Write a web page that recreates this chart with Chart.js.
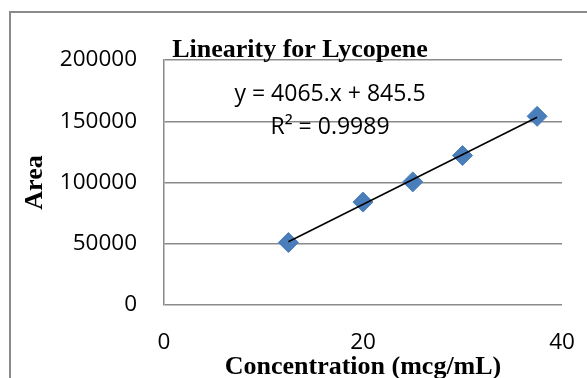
<!DOCTYPE html>
<html>
<head>
<meta charset="utf-8">
<script src="https://cdn.jsdelivr.net/npm/chart.js@4.4.1/dist/chart.umd.min.js"></script>
<style>
    html, body { margin: 0; padding: 0; background: #fff; }
</style>
</head>
<body>
<canvas id="chartLicopeno" width="587" height="378"></canvas>
<script>
// datos
const concentraciones = [12.5, 20, 25, 30, 37.5];
const areas = [51000, 84000, 100500, 122000, 154000];
// linea de tendencia (extremos)
const lineaX = [12.5, 37.5];
const lineaY = [51660, 153280];
const ticksX = [0, 20, 40];
const ticksY = [0, 50000, 100000, 150000, 200000];
const titulo = 'Linearity for Lycopene';
const tituloX = 'Concentration (mcg/mL)';
const tituloY = 'Area';
const ecuacion = ['y = 4065.x + 845.5', 'R² = 0.9989'];

const gris = '#8a8a8a';
const azul = '#4A7EBB';
const fuenteTicks = { family: '"Open Sans"', size: 22.5 };
const fuenteTitulos = { family: '"Liberation Serif"', size: 26, weight: 'bold' };

// marco, titulo y ecuacion
const extras = {
    id: 'extras',
    beforeDraw(chart) {
        let ctx = chart.ctx;
        ctx.save();
        ctx.strokeStyle = gris;
        ctx.lineWidth = 2;
        ctx.strokeRect(10, 12, 700, 500);
        ctx.restore();
    },
    afterDraw(chart) {
        let ctx = chart.ctx;
        let area = chart.chartArea;
        ctx.save();
        ctx.fillStyle = '#000';
        ctx.textAlign = 'center';
        ctx.textBaseline = 'alphabetic';
        ctx.font = 'bold 26px "Liberation Serif"';
        ctx.fillText(titulo, 300, 57);
        ctx.font = '23px "Open Sans"';
        ecuacion.forEach((linea, i) => {
            ctx.fillText(linea, area.left + 166, area.top + 41 + i * 32.6);
        });
        ctx.restore();
    }
};

let ctx = document.getElementById('chartLicopeno').getContext('2d');
let chartLicopeno = new Chart(ctx, {
    type: 'scatter',
    data: {
        datasets: [{
            label: 'Tendencia',
            data: lineaX.map((x, i) => ({ x: x, y: lineaY[i] })),
            showLine: true,
            borderColor: '#000',
            borderWidth: 1.5,
            pointRadius: 0,
            pointHoverRadius: 0
        }, {
            label: 'Area',
            data: concentraciones.map((x, i) => ({ x: x, y: areas[i] })),
            pointStyle: 'rectRot',
            pointRadius: 10,
            pointHoverRadius: 10,
            pointBorderWidth: 1,
            backgroundColor: azul,
            borderColor: azul
        }]
    },
    options: {
        responsive: false,
        animation: false,
        events: [],
        layout: { padding: { top: 60, right: 25, bottom: 0, left: 0 } },
        plugins: {
            legend: { display: false },
            tooltip: { enabled: false },
            title: { display: false }
        },
        scales: {
            x: {
                type: 'linear',
                min: 0,
                max: 40,
                afterBuildTicks: s => { s.ticks = ticksX.map(v => ({ value: v })); },
                afterFit: s => {
                    s.height = 73;
                    s.paddingLeft = 0;
                    s.paddingRight = 0;
                },
                grid: { display: false, drawTicks: false },
                border: { display: false },
                ticks: { color: '#000', font: fuenteTicks, padding: 24, maxRotation: 0 },
                title: {
                    display: true,
                    text: tituloX,
                    color: '#000',
                    font: Object.assign({ lineHeight: 0.8 }, fuenteTitulos),
                    padding: 0
                }
            },
            y: {
                type: 'linear',
                min: 0,
                max: 200000,
                afterBuildTicks: s => { s.ticks = ticksY.map(v => ({ value: v })); },
                afterFit: s => { s.width = 164; },
                grid: { color: gris, lineWidth: 1.5, drawTicks: false },
                border: { display: true, color: gris, width: 1.5 },
                ticks: { color: '#000', font: fuenteTicks, padding: 27, callback: v => String(v) },
                title: {
                    display: true,
                    text: tituloY,
                    color: '#000',
                    font: Object.assign({ lineHeight: 1.2 }, fuenteTitulos),
                    padding: { top: 20, bottom: 0 }
                }
            }
        }
    },
    plugins: [extras]
});
</script>
</body>
</html>
